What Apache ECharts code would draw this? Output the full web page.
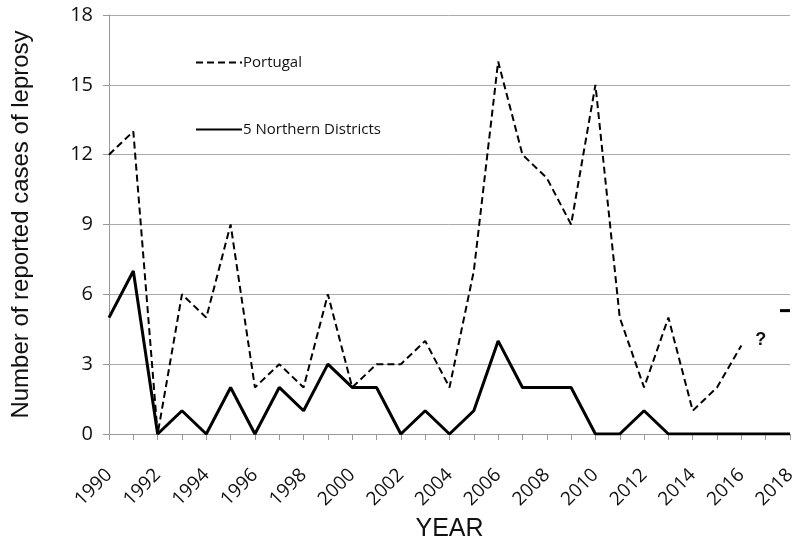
<!DOCTYPE html>
<html>
<head>
<meta charset="utf-8">
<script src="https://cdn.jsdelivr.net/npm/echarts@6/dist/echarts.min.js"></script>
<style>
  html, body { margin: 0; padding: 0; background: #fff; }
  #chart { width: 795px; height: 545px; }
</style>
</head>
<body>
<div id="chart"></div>
<script>
// years on the x axis
var years = []
for (var y = 1990; y <= 2018; y++) years.push(String(y))

// reported cases, Portugal (ends 2016)
var portugal = [12, 13, 0, 6, 5, 9, 2, 3, 2, 6, 2, 3, 3, 4, 2, 7, 16, 12, 11, 9, 15, 5, 2, 5, 1, 2, 3.8]

// reported cases, 5 northern districts
var northern = [5, 7, 0, 1, 0, 2, 0, 2, 1, 3, 2, 2, 0, 1, 0, 1, 4, 2, 2, 2, 0, 0, 1, 0, 0, 0, 0, 0, 0]

var yTicks = { min: 0, max: 18, interval: 3 }

var chart = echarts.init(document.getElementById('chart'))
chart.setOption({
  animation: false,
  backgroundColor: '#fff',
  grid: {
    left: 109,
    right: 5,
    top: 15,
    bottom: 111,
    containLabel: false,
    outerBoundsMode: 'none'
  },
  legend: {
    left: 190,
    top: 50,
    orient: 'vertical',
    itemGap: 52,
    itemWidth: 46,
    itemHeight: 14,
    itemStyle: { opacity: 0 },
    textStyle: {
      fontFamily: 'Open Sans',
      fontSize: 15,
      color: '#111',
      padding: [0, 0, 0, -4]
    },
    data: ['Portugal', '5 Northern Districts']
  },
  xAxis: {
    type: 'category',
    data: years,
    boundaryGap: false,
    name: 'YEAR',
    nameLocation: 'middle',
    nameGap: 79,
    nameTextStyle: {
      fontFamily: 'Liberation Sans',
      fontSize: 25,
      color: '#111'
    },
    axisLine: { lineStyle: { color: '#999', width: 1 } },
    axisTick: {
      alignWithLabel: true,
      interval: 0,
      length: 6,
      lineStyle: { color: '#999' }
    },
    axisLabel: {
      interval: 1,
      rotate: 45,
      margin: 38,
      fontFamily: 'Open Sans',
      fontSize: 19,
      color: '#111'
    },
    splitLine: { show: false }
  },
  yAxis: {
    type: 'value',
    min: yTicks.min,
    max: yTicks.max,
    interval: yTicks.interval,
    name: 'Number of reported cases of leprosy',
    nameLocation: 'middle',
    nameGap: 76,
    nameTextStyle: {
      fontFamily: 'Liberation Sans',
      fontSize: 24,
      color: '#111'
    },
    axisLine: { show: true, lineStyle: { color: '#999', width: 1 } },
    axisTick: { show: true, length: 6, lineStyle: { color: '#999' } },
    axisLabel: {
      margin: 16,
      fontFamily: 'Open Sans',
      fontSize: 20,
      color: '#111'
    },
    splitLine: { lineStyle: { color: '#aaa', width: 1 } }
  },
  series: [
    {
      name: 'Portugal',
      type: 'line',
      data: portugal,
      symbol: 'none',
      color: '#000',
      lineStyle: { color: '#000', width: 2, type: [7, 4] },
      markPoint: {
        symbol: 'rect',
        symbolSize: 0,
        data: [
          {
            coord: ['2017', 4.05],
            label: {
              show: true,
              formatter: '?',
              fontFamily: 'Liberation Sans',
              fontWeight: 'bold',
              fontSize: 18,
              color: '#111',
              offset: [-5, 0]
            }
          },
          {
            coord: ['2018', 5.3],
            symbol: 'rect',
            symbolSize: [10, 3],
            symbolOffset: [-5, 0],
            itemStyle: { color: '#000' },
            label: { show: false }
          }
        ]
      }
    },
    {
      name: '5 Northern Districts',
      type: 'line',
      data: northern,
      symbol: 'none',
      color: '#000',
      lineStyle: { color: '#000', width: 3 }
    }
  ]
})
</script>
</body>
</html>
